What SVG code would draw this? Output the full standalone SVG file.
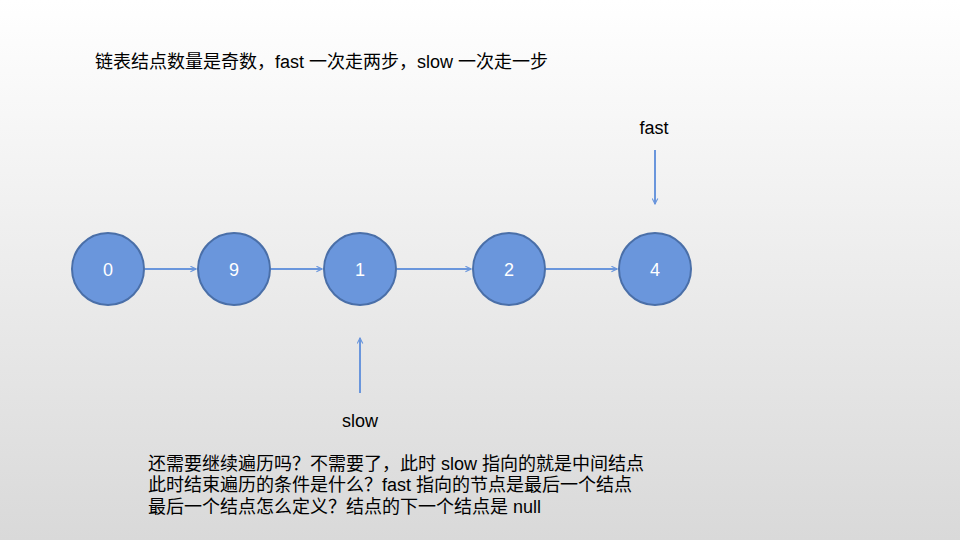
<svg xmlns="http://www.w3.org/2000/svg" width="960" height="540" viewBox="0 0 960 540">
<defs>
<linearGradient id="bg" x1="0" y1="0" x2="0" y2="1">
<stop offset="0" stop-color="#ffffff"/>
<stop offset="1" stop-color="#d9d9d9"/>
</linearGradient>
<marker id="ah" viewBox="0 0 10 10" refX="9" refY="5" markerWidth="7" markerHeight="7" markerUnits="userSpaceOnUse" orient="auto">
<path d="M1,1 L9,5 L1,9" fill="none" stroke="#6a96dc" stroke-width="1.6"/>
</marker>
<style>
.node circle{fill:#6a96dc;stroke:#4a6fa8;stroke-width:2}
.node text{fill:#ffffff;font-family:"Liberation Sans",Arial,sans-serif;font-size:18px;text-anchor:middle}
.conn line{stroke:#6a96dc;stroke-width:2;marker-end:url(#ah)}
.t{fill:#000;font-family:"Liberation Sans","Noto Sans CJK SC",sans-serif;font-size:18px}
</style>
</defs>
<rect width="960" height="540" fill="url(#bg)"/>
<text class="t" x="95" y="68">链表结点数量是奇数，fast 一次走两步，slow 一次走一步</text>
<g id="conns" class="conn">
<line x1="145" y1="269" x2="196" y2="269"/>
<line x1="271" y1="269" x2="322" y2="269"/>
<line x1="397" y1="269" x2="471" y2="269"/>
<line x1="546" y1="269" x2="617" y2="269"/>
<line x1="655" y1="150" x2="655" y2="204"/>
<line x1="360" y1="393" x2="360" y2="338"/>
</g>
<g id="n0" class="node"><circle cx="108" cy="269" r="36"/><text x="108" y="275.500">0</text></g>
<g id="n9" class="node"><circle cx="234" cy="269" r="36"/><text x="234" y="275.500">9</text></g>
<g id="n1" class="node"><circle cx="360" cy="269" r="36"/><text x="360" y="275.500">1</text></g>
<g id="n2" class="node"><circle cx="509" cy="269" r="36"/><text x="509" y="275.500">2</text></g>
<g id="n4" class="node"><circle cx="655" cy="269" r="36"/><text x="655" y="275.500">4</text></g>
<text class="t" x="654" y="134" text-anchor="middle">fast</text>
<text class="t" x="360" y="427" text-anchor="middle">slow</text>
<text class="t" x="148" y="470">还需要继续遍历吗？不需要了，此时 slow 指向的就是中间结点</text>
<text class="t" x="148" y="491">此时结束遍历的条件是什么？fast 指向的节点是最后一个结点</text>
<text class="t" x="148" y="513">最后一个结点怎么定义？结点的下一个结点是 null</text>
</svg>
